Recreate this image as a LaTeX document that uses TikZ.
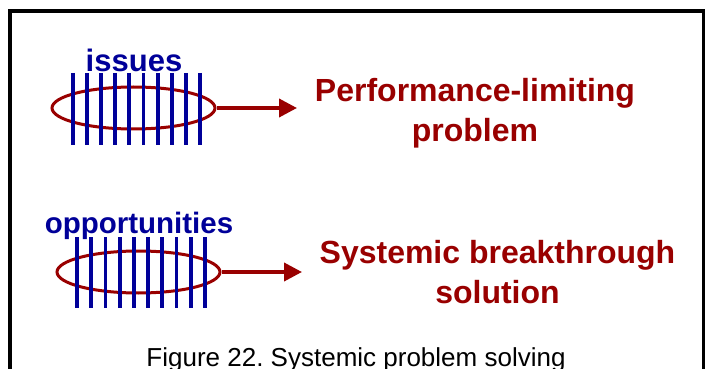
\documentclass[tikz,border=0pt]{standalone}
\usepackage{fontspec}
\setmainfont{Liberation Sans}
\usetikzlibrary{arrows.meta,shapes.geometric}
\definecolor{dred}{RGB}{153,0,0}
\definecolor{dblue}{RGB}{0,0,153}
\tikzset{
  frameline/.style={line width=3.6pt,black},
  bar/.style={line width=3.8pt,dblue},
  ringshape/.style={ellipse,draw=dred,line width=3pt,minimum width=163pt,minimum height=42pt,inner sep=0pt},
  arr/.style={line width=3.8pt,dred,-{Triangle[length=18pt,width=18pt]}},
  lbl/.style={font=\fontsize{30}{30}\selectfont\bfseries,text=dblue,anchor=base,inner sep=0pt},
  res/.style={font=\fontsize{32}{40}\selectfont\bfseries,text=dred,align=center,inner sep=0pt},
  captext/.style={font=\fontsize{26}{26}\selectfont,anchor=base,inner sep=0pt}
}
\frenchspacing
\begin{document}
\begin{tikzpicture}[x=1pt,y=-1pt]
\useasboundingbox (0,0) rectangle (705,369);
\fill[white] (0,0) rectangle (705,369);
\draw[frameline] (10,372) -- (10,10.8) -- (704,10.8) -- (704,372);
% top group
\node[ringshape] (e1) at (133.5,108) {};
\foreach \i in {0,...,9} {\draw[bar] (72.7+\i*14.15,73) -- (72.7+\i*14.15,145);}
\node[lbl,font=\fontsize{31}{31}\selectfont\bfseries] (issues) at (134,72) {issues};
\node[res,anchor=base] (r1) at (475,141.7) {Performance-limiting\\problem};
\coordinate (t1) at (297,108);
\draw[arr] (e1.east) -- (t1);
% bottom group
\node[ringshape] (e2) at (138.5,272) {};
\foreach \i in {0,...,9} {\draw[bar] (77+\i*14.2,237) -- (77+\i*14.2,308);}
\node[lbl,font=\fontsize{29.5}{29.5}\selectfont\bfseries] (opp) at (139,233.3) {opportunities};
\node[res,anchor=base] (r2) at (497.5,303.3) {Systemic breakthrough\\solution};
\coordinate (t2) at (302,272);
\draw[arr] (e2.east) -- (t2);
% caption
\node[captext] (caption) at (356,366) {Figure 22. Systemic problem solving};
\end{tikzpicture}
\end{document}
